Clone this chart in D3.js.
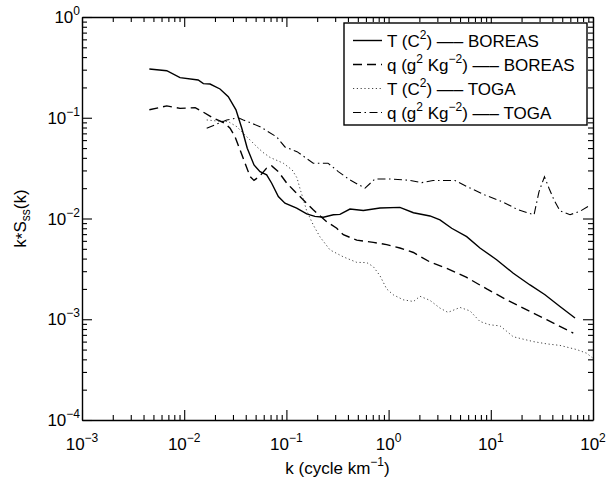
<!DOCTYPE html>
<html>
<head>
<meta charset="utf-8">
<script src="https://cdn.jsdelivr.net/npm/d3@7"></script>
<style>
  body { margin: 0; background: #fff; }
  text { font-family: Arial, "Liberation Sans", Helvetica, sans-serif; fill: #000; }
</style>
</head>
<body>
<svg id="chart" width="610" height="482"></svg>
<script>
// ---- data (k in cycle/km, k*S(k)) ----
var kTBoreas = [0.00456, 0.00675, 0.0091, 0.0137, 0.0154, 0.0179, 0.0224, 0.027, 0.0321, 0.0366, 0.0414, 0.0482, 0.0552, 0.0641, 0.0718, 0.0834, 0.0968, 0.126, 0.158, 0.19, 0.23, 0.288, 0.334, 0.419, 0.566, 0.824, 1.29, 1.75, 2.54, 3.18, 4.14, 5.81, 7.83, 11.4, 16.6, 24.2, 33.9, 47.5, 66.7];
var sTBoreas = [0.305, 0.293, 0.25, 0.237, 0.218, 0.216, 0.193, 0.162, 0.12, 0.0787, 0.0498, 0.034, 0.0292, 0.0271, 0.0224, 0.0165, 0.0142, 0.0127, 0.0111, 0.0105, 0.0103, 0.0109, 0.011, 0.0124, 0.012, 0.0127, 0.0129, 0.0114, 0.0106, 0.0097, 0.008, 0.0066, 0.0051, 0.0039, 0.00286, 0.00219, 0.00175, 0.00134, 0.00103];

var kQBoreas = [0.00456, 0.00675, 0.0091, 0.0128, 0.0153, 0.0193, 0.0251, 0.0281, 0.0314, 0.0352, 0.0394, 0.0441, 0.0482, 0.0552, 0.0641, 0.0718, 0.0834, 0.101, 0.121, 0.141, 0.183, 0.248, 0.311, 0.361, 0.488, 0.708, 0.957, 1.29, 1.75, 2.54, 3.7, 5.81, 9.12, 14.3, 20.8, 35.2, 64.1];
var sQBoreas = [0.12, 0.131, 0.124, 0.126, 0.114, 0.0989, 0.0882, 0.0787, 0.0649, 0.0479, 0.0354, 0.0261, 0.0239, 0.0265, 0.0316, 0.0333, 0.0292, 0.0224, 0.0185, 0.0159, 0.0122, 0.0093, 0.008, 0.0069, 0.0061, 0.0058, 0.0055, 0.0051, 0.0046, 0.0037, 0.0032, 0.0026, 0.002, 0.00156, 0.00129, 0.00099, 0.00073];

var kTToga = [0.0166, 0.0208, 0.027, 0.0327, 0.0409, 0.0512, 0.059, 0.0691, 0.0933, 0.114, 0.127, 0.137, 0.147, 0.158, 0.183, 0.213, 0.267, 0.361, 0.488, 0.611, 0.708, 0.824, 0.957, 1.11, 1.39, 1.75, 2.03, 2.54, 3.18, 3.81, 5.0, 6.26, 7.83, 9.82, 12.3, 14.3, 16.6, 26.1, 35.2, 47.5, 69.3, 86.7, 100];
var sTToga = [0.0951, 0.0929, 0.0915, 0.0816, 0.0649, 0.0517, 0.0453, 0.0404, 0.0354, 0.0303, 0.0253, 0.0192, 0.0153, 0.0119, 0.00864, 0.00657, 0.00488, 0.00416, 0.00367, 0.00365, 0.00333, 0.0027, 0.002, 0.00175, 0.00156, 0.0015, 0.00169, 0.00154, 0.00129, 0.00117, 0.00131, 0.00121, 0.00095, 0.00088, 0.00086, 0.00076, 0.00067, 0.0006, 0.00057, 0.00055, 0.0005, 0.00046, 0.00041];

var kQToga = [0.0166, 0.0261, 0.0338, 0.0379, 0.0552, 0.0804, 0.0968, 0.127, 0.183, 0.255, 0.322, 0.419, 0.588, 0.736, 1.03, 1.62, 2.11, 2.72, 4.47, 5.92, 8.78, 12.9, 18.5, 26.5, 29.6, 33.5, 37.1, 41.5, 47.5, 59.6, 74.6, 95.6];
var sQToga = [0.0787, 0.0951, 0.1, 0.0951, 0.0816, 0.0645, 0.0513, 0.0461, 0.0354, 0.0354, 0.0292, 0.0241, 0.02, 0.0247, 0.0247, 0.0239, 0.0227, 0.0238, 0.0238, 0.0206, 0.0171, 0.0147, 0.0122, 0.0109, 0.0184, 0.026, 0.02, 0.0153, 0.0119, 0.0109, 0.0118, 0.0137];

// legend pieces
var legendNames = ["T", "q", "T", "q"];
var legendSources = ["BOREAS", "BOREAS", "TOGA", "TOGA"];

var xExponents = [-3, -2, -1, 0, 1, 2];
var yExponents = [-4, -3, -2, -1, 0];

/////////////////////// canvas, scales ///////////////////////
var margin = {top: 17, right: 17, bottom: 62, left: 82},
    width = 610 - margin.left - margin.right,
    height = 482 - margin.top - margin.bottom,
    fontSize = 17,
    supSize = 12;

var svg = d3.select("#chart")
  .append("g")
    .attr("transform", "translate(" + margin.left + "," + margin.top + ")");

var x = d3.scaleLog().domain([1e-3, 1e2]).range([0, width]);
var y = d3.scaleLog().domain([1e-4, 1]).range([height, 0]);

function isMajor(d) { return Math.abs(Math.log10(d) - Math.round(Math.log10(d))) < 1e-6; }

/////////////////////// axes, ticks inside on all sides ///////////////////////
function drawAxis(axis, tx, ty, isX) {
  var g = svg.append("g")
      .attr("transform", "translate(" + tx + "," + ty + ")")
      .call(axis.tickSize(-5).tickSizeOuter(0).tickFormat(""));
  g.select(".domain").attr("stroke", "#000").attr("stroke-width", 1.4);
  g.selectAll(".tick line")
      .attr("stroke", "#000")
      .attr("stroke-width", 1.1)
      .each(function(d) {
        if (!isMajor(d)) return;
        var ln = d3.select(this), a = isX ? "y2" : "x2";
        ln.attr(a, +ln.attr(a) * 2);
      });
  return g;
}
drawAxis(d3.axisBottom(x).tickValues(x.ticks()), 0, height, true);
drawAxis(d3.axisTop(x).tickValues(x.ticks()), 0, 0, true);
drawAxis(d3.axisLeft(y).tickValues(y.ticks()), 0, 0, false);
drawAxis(d3.axisRight(y).tickValues(y.ticks()), width, 0, false);

// power-of-ten tick labels
function powLabel(sel, e) {
  sel.append("tspan").text("10");
  sel.append("tspan").attr("dy", -8).style("font-size", supSize + "px")
     .text(e < 0 ? "\u2212" + (-e) : String(e));
}
xExponents.forEach(function(e) {
  svg.append("text")
      .attr("x", x(Math.pow(10, e)))
      .attr("y", height + 30)
      .attr("text-anchor", "middle")
      .style("font-size", fontSize + "px")
      .call(powLabel, e);
});
yExponents.forEach(function(e) {
  svg.append("text")
      .attr("x", -2)
      .attr("y", y(Math.pow(10, e)) + 6)
      .attr("text-anchor", "end")
      .style("font-size", fontSize + "px")
      .call(powLabel, e);
});

// axis titles
var xl = svg.append("text")
    .attr("x", width / 2)
    .attr("y", height + 54)
    .attr("text-anchor", "middle")
    .style("font-size", fontSize + "px");
xl.append("tspan").text("k (cycle km");
xl.append("tspan").attr("dy", -8).style("font-size", supSize + "px").text("\u22121");
xl.append("tspan").attr("dy", 8).text(")");

var yl = svg.append("text")
    .attr("transform", "translate(" + (-56) + "," + (height / 2) + ") rotate(-90)")
    .attr("text-anchor", "middle")
    .style("font-size", fontSize + "px");
yl.append("tspan").text("k");
yl.append("tspan").attr("dy", 2).text("*");
yl.append("tspan").attr("dy", -2).text("S");
yl.append("tspan").attr("dy", 4).style("font-size", supSize + "px").text("ss");
yl.append("tspan").attr("dy", -4).text("(k)");

/////////////////////// curves ///////////////////////
svg.append("clipPath").attr("id", "clip")
  .append("rect").attr("width", width).attr("height", height);

var styles = [
  {dash: null,            width: 1.4, color: "#000"},
  {dash: "9,5",           width: 1.4, color: "#000"},
  {dash: "1.2,2.6",       width: 1.0, color: "#444"},
  {dash: "8,3.5,1.5,3.5", width: 1.1, color: "#000"}
];
var series = [
  d3.zip(kTBoreas, sTBoreas),
  d3.zip(kQBoreas, sQBoreas),
  d3.zip(kTToga, sTToga),
  d3.zip(kQToga, sQToga)
];

var line = d3.line()
    .x(d => x(d[0]))
    .y(d => y(d[1]));

svg.append("g").attr("clip-path", "url(#clip)")
  .selectAll("path")
  .data(series)
  .enter().append("path")
    .attr("d", line)
    .attr("fill", "none")
    .attr("stroke", (d, i) => styles[i].color)
    .attr("stroke-width", (d, i) => styles[i].width)
    .attr("stroke-dasharray", (d, i) => styles[i].dash);

/////////////////////// legend ///////////////////////
var legend = svg.append("g").attr("transform", "translate(" + (344 - margin.left) + "," + (23 - margin.top) + ")");
legend.append("rect")
    .attr("width", 243).attr("height", 102)
    .attr("fill", "#fff").attr("stroke", "#000").attr("stroke-width", 1.4);

var longDash = " \u2014\u2013 ";
legendNames.forEach(function(n, i) {
  var row = legend.append("g").attr("transform", "translate(0," + (23.5 + i * 24) + ")");
  row.append("line")
      .attr("x1", 9).attr("x2", 38).attr("y1", -6).attr("y2", -6)
      .attr("stroke", styles[i].color)
      .attr("stroke-width", styles[i].width)
      .attr("stroke-dasharray", styles[i].dash);
  var t = row.append("text").attr("x", 43).style("font-size", fontSize + "px");
  if (n === "T") {
    t.append("tspan").text("T (C");
    t.append("tspan").attr("dy", -8).style("font-size", supSize + "px").text("2");
    t.append("tspan").attr("dy", 8).text(")" + longDash + legendSources[i]);
  } else {
    t.append("tspan").text("q (g");
    t.append("tspan").attr("dy", -8).style("font-size", supSize + "px").text("2");
    t.append("tspan").attr("dy", 8).text(" Kg");
    t.append("tspan").attr("dy", -8).style("font-size", supSize + "px").text("\u22122");
    t.append("tspan").attr("dy", 8).text(")" + longDash + legendSources[i]);
  }
});
</script>
</body>
</html>
